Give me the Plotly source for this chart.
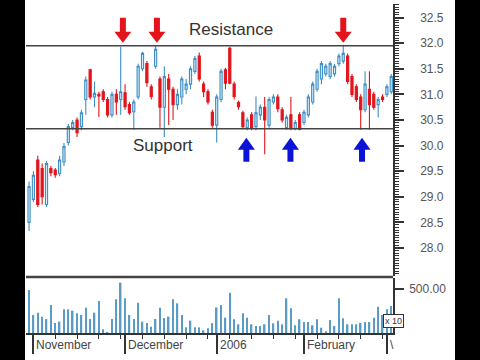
import plotly.graph_objects as go

# ---------------- data ----------------
days = list(range(84))
opens = [28.5, 28.95, 29.72, 29.55, 28.85, 29.55, 29.52, 29.45, 29.68, 30.06,
         30.35, 30.5, 30.37, 30.9, 31.48, 30.95, 31.0, 31.05, 30.9, 30.6,
         31.0, 30.9, 31.03, 30.8, 30.66, 30.95, 31.5, 31.6, 31.15, 31.55,
         31.3, 30.75, 31.3, 31.1, 30.8, 30.95, 31.1, 31.2, 31.45, 31.75,
         31.2, 31.05, 30.65, 30.4, 30.9, 31.48, 31.9, 31.2, 30.84, 30.64,
         30.35, 30.6, 30.37, 30.6, 30.75, 30.4, 30.85, 30.95, 30.7, 30.35,
         30.6, 30.33, 30.6, 30.45, 30.6, 30.85, 31.1, 31.3, 31.4, 31.35,
         31.4, 31.6, 31.65, 31.75, 31.35, 31.15, 30.95, 30.7, 31.1, 31.0,
         30.8, 30.95, 31.0, 31.05]
highs = [29.3, 29.5, 29.8, 29.65, 29.7, 29.6, 29.56, 29.8, 30.05, 30.42,
         30.5, 30.55, 30.7, 31.35, 31.5, 31.25, 31.05, 31.1, 30.95, 31.05,
         31.1, 31.93, 31.2, 30.85, 30.9, 31.6, 31.83, 31.65, 31.2, 31.96,
         31.35, 31.55, 31.4, 31.15, 31.1, 31.35, 31.3, 31.55, 31.75, 31.82,
         31.25, 31.1, 30.7, 31.0, 31.5, 31.52, 31.93, 31.25, 30.88, 30.68,
         30.55, 30.65, 30.96, 30.8, 30.95, 30.95, 31.0, 31.0, 30.75, 30.6,
         30.95, 30.5, 30.65, 30.7, 31.0, 31.25, 31.5, 31.65, 31.6, 31.65,
         31.6, 31.8, 31.97, 31.8, 31.4, 31.2, 31.0, 31.45, 31.45, 31.05,
         30.95, 31.0, 31.2, 31.4]
lows = [28.33, 28.9, 28.8, 28.85, 28.8, 29.4, 29.37, 29.4, 29.6, 30.0,
        30.3, 30.17, 30.3, 30.6, 30.9, 30.75, 30.56, 30.85, 30.55, 30.55,
        30.6, 30.6, 30.7, 30.6, 30.31, 30.9, 31.45, 31.15, 30.9, 31.5,
        30.35, 30.17, 30.4, 30.5, 30.7, 30.8, 31.0, 31.1, 31.4, 31.25,
        30.95, 30.8, 30.35, 30.06, 30.85, 31.1, 31.2, 30.9, 30.7, 30.32,
        30.3, 30.3, 30.3, 30.5, 29.83, 30.35, 30.8, 30.65, 30.45, 30.31,
        30.3, 30.3, 30.3, 30.4, 30.55, 30.8, 31.05, 31.2, 31.35, 31.3,
        31.35, 31.55, 31.6, 31.2, 30.95, 30.85, 30.31, 30.65, 30.31, 30.7,
        30.55, 30.85, 30.95, 31.0]
closes = [29.2, 29.42, 28.85, 29.0, 29.65, 29.47, 29.43, 29.72, 29.98, 30.37,
          30.45, 30.25, 30.64, 31.28, 30.95, 31.02, 30.97, 30.9, 30.6, 31.0,
          30.85, 31.05, 30.76, 30.64, 30.85, 31.55, 31.8, 31.23, 30.96, 31.88,
          30.75, 31.35, 31.1, 30.8, 31.0, 31.3, 31.2, 31.5, 31.7, 31.3,
          31.05, 30.85, 30.4, 30.95, 31.45, 31.22, 31.22, 30.96, 30.76, 30.37,
          30.5, 30.35, 30.64, 30.75, 30.5, 30.9, 30.95, 30.72, 30.5, 30.55,
          30.35, 30.45, 30.32, 30.65, 30.95, 31.2, 31.45, 31.6, 31.55, 31.6,
          31.55, 31.75, 31.8, 31.25, 31.0, 30.9, 30.7, 31.2, 30.8, 30.75,
          30.9, 30.9, 31.15, 31.35]
volumes = [489, 205, 231, 186, 159, 318, 114, 129, 269, 269,
           254, 223, 205, 288, 159, 231, 364, 42, 10, 159,
           383, 572, 394, 205, 159, 345, 129, 114, 72, 159,
           288, 170, 186, 383, 337, 205, 64, 140, 64, 64,
           30, 53, 112, 290, 318, 174, 458, 156, 99, 224,
           174, 99, 80, 80, 99, 205, 110, 140, 99, 394,
           280, 88, 156, 125, 125, 88, 156, 60, 20, 148,
           80, 394, 167, 99, 99, 99, 114, 125, 125, 174,
           299, 205, 269, 307]

month_labels = ["November", "December", "2006", "February", "\\"]
month_start_idx = [1, 22, 43, 63, 82]

price_ticks = [28.0, 28.5, 29.0, 29.5, 30.0, 30.5, 31.0, 31.5, 32.0, 32.5]
volume_ticks = [500]
volume_tick_text = ["500.00"]

resistance_level = 31.95
support_level = 30.33
resistance_touch_idx = [21.5, 29.3, 72.0]
support_touch_idx = [49.8, 59.9, 76.3]

# ---------------- figure ----------------
W, H = 480, 360
L, R, T, B = 26, 87, 4, 27
pw = W - L - R
ph = H - T - B

fig = go.Figure()

fig.add_trace(go.Candlestick(
    x=days, open=opens, high=highs, low=lows, close=closes,
    increasing=dict(line=dict(color="#3f8fc4", width=1.1), fillcolor="#d6ebf8"),
    decreasing=dict(line=dict(color="#e3141c", width=1.1), fillcolor="#e3141c"),
    whiskerwidth=0, xaxis="x", yaxis="y", showlegend=False, hoverinfo="skip",
))

fig.add_trace(go.Bar(
    x=days, y=volumes, width=0.35, marker=dict(color="#5b9cc6", line=dict(width=0)),
    xaxis="x", yaxis="y2", showlegend=False, hoverinfo="skip",
))

vol_top = (ph - (277 - T)) / ph  # fraction where volume panel ends
price_bottom = (ph - (277 - T)) / ph

fig.update_layout(
    width=W, height=H,
    margin=dict(l=L, r=R, t=T, b=B, pad=0),
    paper_bgcolor="white", plot_bgcolor="white",
    font=dict(family="Liberation Sans, Arial, sans-serif", size=12, color="#555"),
    showlegend=False,
    boxgap=0.3,
    xaxis=dict(
        domain=[0, 1], anchor="y2", range=[-0.7, 83.4],
        rangeslider=dict(visible=False),
        showgrid=False, zeroline=False,
        showline=True, linecolor="#333", linewidth=1.5,
        tickmode="array", tickvals=month_start_idx, ticktext=[""] * len(month_start_idx),
        ticks="outside", ticklen=19, tickcolor="#333", tickwidth=1.5,
        minor=dict(tickmode="linear", tick0=1, dtick=5, ticks="outside", ticklen=4,
                   tickcolor="#333", tickwidth=1),
    ),
    yaxis=dict(
        domain=[price_bottom + 0.003, 1], anchor="x", side="right",
        range=[32 - (277 - 43.3) / 51.4, 32 + (43.3 - 4) / 51.4],
        showgrid=False, zeroline=False,
        showline=True, linecolor="#333", linewidth=1.5,
        tickmode="array", tickvals=price_ticks,
        ticktext=[f"{v:.1f}" for v in price_ticks],
        ticks="outside", ticklen=9, tickcolor="#333", tickwidth=1.5,
        ticklabelstandoff=14,
        minor=dict(tickmode="linear", dtick=0.05, ticks="outside", ticklen=4,
                   tickcolor="#333", tickwidth=1),
    ),
    yaxis2=dict(
        domain=[0, vol_top - 0.003], anchor="x", side="right",
        range=[0, 625],
        showgrid=False, zeroline=False,
        showline=True, linecolor="#333", linewidth=1.5,
        tickmode="array", tickvals=volume_ticks, ticktext=volume_tick_text,
        ticks="outside", ticklen=9, tickcolor="#333", tickwidth=1.5,
        ticklabelstandoff=3,
    ),
)

shapes = []
# support / resistance lines
for lvl in (resistance_level, support_level):
    shapes.append(dict(type="line", xref="paper", x0=0, x1=1, yref="y", y0=lvl, y1=lvl,
                       line=dict(color="#444", width=1.5)))
# panel separator
shapes.append(dict(type="line", xref="paper", x0=0, x1=1, yref="paper",
                   y0=vol_top, y1=vol_top, line=dict(color="#444", width=2.5)))

down_path = "M 0,3 L -8.5,14 L -3,14 L -3,28 L 3,28 L 3,14 L 8.5,14 Z"
up_path = "M 0,-9 L -8.5,-21 L -3,-21 L -3,-33 L 3,-33 L 3,-21 L 8.5,-21 Z"
for xi in resistance_touch_idx:
    shapes.append(dict(type="path", xref="x", yref="y", xsizemode="pixel", ysizemode="pixel",
                       xanchor=xi, yanchor=resistance_level, path=down_path,
                       fillcolor="#e3141c", line=dict(width=0)))
for xi in support_touch_idx:
    shapes.append(dict(type="path", xref="x", yref="y", xsizemode="pixel", ysizemode="pixel",
                       xanchor=xi, yanchor=support_level, path=up_path,
                       fillcolor="#0b14d6", line=dict(width=0)))

# black video side bars
shapes.append(dict(type="rect", xref="paper", yref="paper",
                   x0=(0 - L) / pw - 0.01, x1=(25 - L) / pw, y0=-0.2, y1=1.1,
                   fillcolor="black", line=dict(width=0), layer="above"))
shapes.append(dict(type="rect", xref="paper", yref="paper",
                   x0=(455 - L) / pw, x1=(480 - L) / pw + 0.01, y0=-0.2, y1=1.1,
                   fillcolor="black", line=dict(width=0), layer="above"))
fig.update_layout(shapes=shapes)

annotations = [
    dict(text="Resistance", xref="x", yref="y", x=46.2, y=32.26, showarrow=False,
         font=dict(size=17, color="#333")),
    dict(text="Support", xref="x", yref="y", x=30.6, y=30.0, showarrow=False,
         font=dict(size=17, color="#333")),
    dict(text="x 10", xref="paper", yref="paper", x=(404 - L) / pw, y=5.5 / ph,
         showarrow=False, font=dict(size=9, color="#333"),
         bordercolor="#333", borderwidth=1, borderpad=1, bgcolor="white"),
]
for lab, xi in zip(month_labels, month_start_idx):
    annotations.append(dict(text=lab, xref="x", yref="paper", x=xi, y=0, xanchor="left",
                            yanchor="top", xshift=1, yshift=-3, showarrow=False,
                            font=dict(size=12, color="#444")))
fig.update_layout(annotations=annotations)

fig.write_html("out.html")
